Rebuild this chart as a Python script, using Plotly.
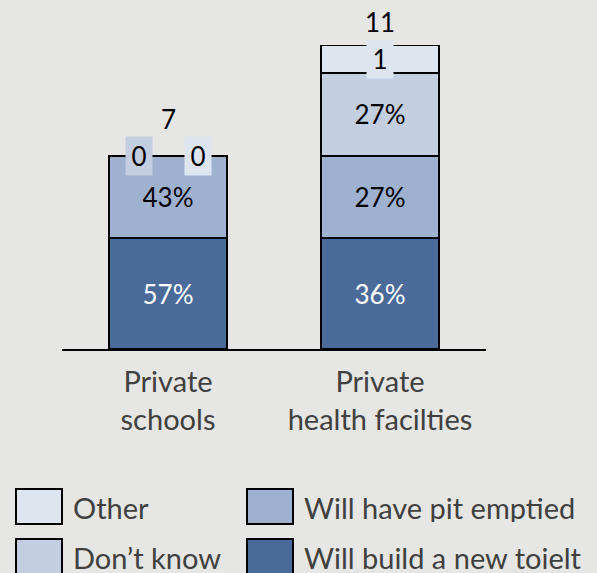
import plotly.graph_objects as go

# Categories and counts per response
categories = ["Private<br>schools", "Private<br>health facilties"]
series_names = ["Will build a new toielt", "Will have pit emptied", "Don’t know", "Other"]
new_toilet = [4, 4]
pit_emptied = [3, 3]
dont_know = [0, 3]
other = [0, 1]

# Segment labels as printed on the bars
new_toilet_labels = ["57%", "36%"]
pit_emptied_labels = ["43%", "27%"]
dont_know_labels = ["0", "27%"]
other_labels = ["0", "1"]

colors = ["#4a6a99", "#9eb1ce", "#c3cee0", "#dfe5ee"]
text_colors = ["#ffffff", "#000000", "#000000", "#000000"]

series_values = [new_toilet, pit_emptied, dont_know, other]
series_labels = [new_toilet_labels, pit_emptied_labels, dont_know_labels, other_labels]
totals = [sum(v[i] for v in series_values) for i in range(len(categories))]

FONT = "Lato, 'Open Sans', sans-serif"
FS = 26        # numbers on and above the bars
FS_TEXT = 29   # category names and legend

# plot-area geometry (pixels) used to place the hand-drawn legend
W, H = 597, 573
M_L, M_R, M_T, M_B = 62, 111, 45, 224
PW, PH = W - M_L - M_R, H - M_T - M_B


def px_x(x):
    return (x - M_L) / PW


def px_y(y):
    return (H - M_B - y) / PH


fig = go.Figure()
annotations = []

for s, (name, vals, labs) in enumerate(zip(series_names, series_values, series_labels)):
    inside = [lab if v >= 2 else "" for v, lab in zip(vals, labs)]
    fig.add_trace(go.Bar(
        x=categories, y=vals, name=name, width=0.56,
        marker=dict(color=colors[s], line=dict(color="#000000", width=2)),
        text=inside, textposition="inside", insidetextanchor="middle",
        textangle=0, textfont=dict(family=FONT, size=FS, color=text_colors[s]),
        showlegend=False, cliponaxis=False, hoverinfo="skip",
    ))

# labels for thin or empty segments, drawn on a patch of the segment colour
zero_shift = {"Don’t know": -29, "Other": 30}
has_zero = [False] * len(categories)
for s, (name, vals, labs) in enumerate(zip(series_names, series_values, series_labels)):
    for i, (v, lab) in enumerate(zip(vals, labs)):
        if v >= 2:
            continue
        base = sum(series_values[k][i] for k in range(s))
        xshift = 0
        if v == 0:
            has_zero[i] = True
            xshift = zero_shift.get(name, 0)
        annotations.append(dict(
            x=categories[i], y=base + v / 2, xref="x", yref="y", text=lab,
            showarrow=False, xshift=xshift, bgcolor=colors[s], width=24, height=36,
            borderpad=1, font=dict(family=FONT, size=FS, color="#000000"),
        ))

# totals above each bar
for i, t in enumerate(totals):
    annotations.append(dict(
        x=categories[i], y=t, xref="x", yref="y", text=str(t), showarrow=False,
        yanchor="middle", yshift=37 if has_zero[i] else 23,
        font=dict(family=FONT, size=FS, color="#000000"),
    ))

# legend: outlined swatches with text, two columns
legend_items = [("Other", 3, 16, 489), ("Will have pit emptied", 1, 247, 489),
                ("Don’t know", 2, 16, 539), ("Will build a new toielt", 0, 247, 539)]
shapes = []
for text, s, x0, y0 in legend_items:
    shapes.append(dict(
        type="rect", xref="paper", yref="paper",
        x0=px_x(x0), x1=px_x(x0 + 46), y0=px_y(y0), y1=px_y(y0 + 35),
        fillcolor=colors[s], line=dict(color="#000000", width=2), layer="above",
    ))
    annotations.append(dict(
        x=px_x(x0 + 55), y=px_y(y0 + 18), xref="paper", yref="paper",
        xanchor="left", yanchor="middle", text=text, showarrow=False,
        height=30, valign="middle",
        font=dict(family=FONT, size=FS_TEXT, color="#404040"),
    ))

fig.update_layout(
    barmode="stack", bargap=0.44,
    width=W, height=H,
    margin=dict(l=M_L, r=M_R, t=M_T, b=M_B),
    paper_bgcolor="#e6e6e4", plot_bgcolor="#e6e6e4",
    annotations=annotations, shapes=shapes,
    showlegend=False,
    xaxis=dict(
        range=[-0.5, 1.5], showline=True, linecolor="#000000", linewidth=2,
        showgrid=False, zeroline=False, ticks="", ticklabelstandoff=6,
        tickfont=dict(family=FONT, size=FS_TEXT, color="#404040"),
    ),
    yaxis=dict(range=[0, 11], visible=False, showgrid=False, zeroline=False),
    font=dict(family=FONT),
)

fig.write_html("out.html")
